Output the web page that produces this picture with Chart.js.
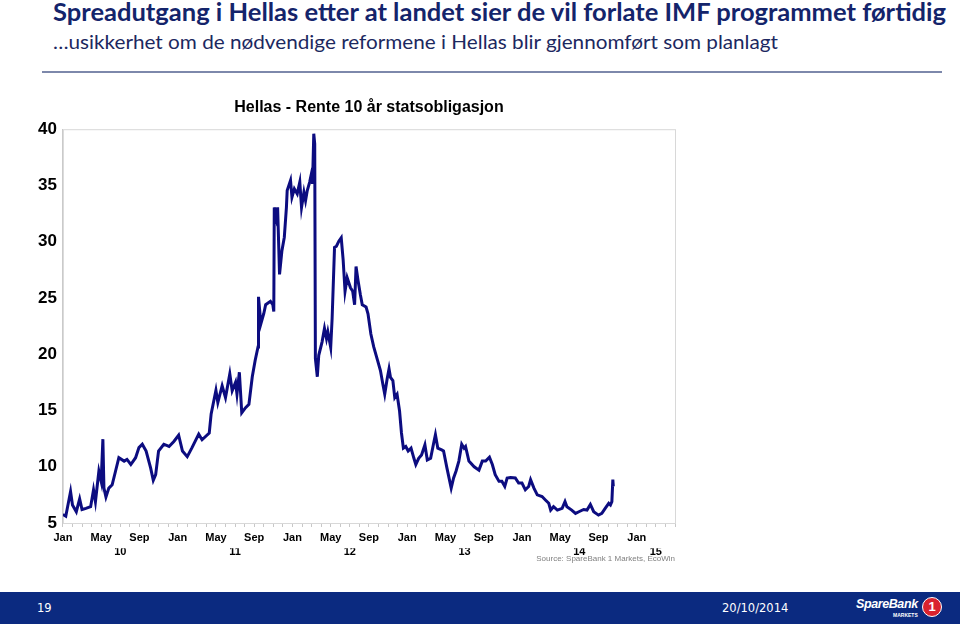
<!DOCTYPE html>
<html>
<head>
<meta charset="utf-8">
<script src="https://cdn.jsdelivr.net/npm/chart.js@4.4.1/dist/chart.umd.min.js"></script>
<style>
  body { margin: 0; width: 960px; height: 627px; position: relative; overflow: hidden; background: #fff; }
  #head1 { position: absolute; left: 53px; top: -3px; font: bold 24px Lato, sans-serif; color: #14246b; white-space: nowrap; transform-origin: 0 0; }
  #head2 { position: absolute; left: 53px; top: 30px; font: 19px Lato, sans-serif; color: #1c2860; white-space: nowrap; transform-origin: 0 0; }
  #rule { position: absolute; left: 42px; top: 71px; width: 900px; height: 2px; background: #7d88ab; }
  #wrap { position: absolute; left: 20px; top: 90px; width: 700px; height: 476px; }
  #foot { position: absolute; left: 0; top: 592px; width: 960px; height: 32px; background: #0b2a80; color: #fff; font-family: "DejaVu Sans", sans-serif; }
  #page { position: absolute; left: 37px; top: 9px; font-size: 11.5px; }
  #date { position: absolute; left: 722px; top: 9px; font-size: 11.5px; }
  #logo { position: absolute; left: 856px; top: 5px; font: bold italic 12.5px "Liberation Sans", sans-serif; letter-spacing: -0.4px; }
  #mk { position: absolute; left: 893px; top: 20px; font: bold 5px "Liberation Sans", sans-serif; }
  #one { position: absolute; left: 922px; top: 5px; width: 18px; height: 18px; border-radius: 50%; background: #d9232e; border: 1px solid #fff; color: #fff; font: bold 13px "Liberation Sans", sans-serif; text-align: center; line-height: 18px; }
</style>
</head>
<body>
<div id="head1">Spreadutgang i Hellas etter at landet sier de vil forlate IMF programmet førtidig</div>
<div id="head2">…usikkerhet om de nødvendige reformene i Hellas blir gjennomført som planlagt</div>
<div id="rule"></div>
<div id="wrap"><canvas id="grafico"></canvas></div>
<div id="foot">
  <div id="page">19</div>
  <div id="date">20/10/2014</div>
  <div id="logo">SpareBank</div>
  <div id="mk">MARKETS</div>
  <div id="one">1</div>
</div>
<script>
// months since Jan 2010
const months = [
  0, 0.3, 0.8, 1.0, 1.4, 1.75, 2.0, 2.4, 2.9, 3.2, 3.4, 3.76, 4.0, 4.18, 4.29, 4.5, 4.8, 5.15, 5.5, 5.85,
  6.4, 6.7, 7.1, 7.6, 7.95, 8.3, 8.7, 9.17, 9.45, 9.7, 10.0, 10.55, 11.1, 11.6, 12.1, 12.5, 13.0, 13.5, 14.2, 14.55,
  15.3, 15.5, 16.0, 16.2, 16.65, 17.0, 17.45, 17.7, 18.05, 18.2, 18.45, 18.7, 19.1, 19.45, 19.8, 20.1, 20.4, 20.45, 20.7, 21.0,
  21.2, 21.7, 21.95, 22.05, 22.1, 22.3, 22.45, 22.65, 22.9, 23.15, 23.37, 23.45, 23.8, 23.95, 24.2, 24.5, 24.77, 24.95, 25.2, 25.37,
  25.55, 25.8, 25.95, 26.1, 26.23, 26.33, 26.4, 26.6, 26.75, 27.1, 27.35, 27.56, 27.7, 28.0, 28.15, 28.4, 28.6, 28.85, 29.1, 29.3,
  29.5, 29.72, 30.07, 30.3, 30.5, 30.65, 30.85, 31.1, 31.3, 31.7, 31.9, 32.2, 32.5, 32.9, 33.2, 33.45, 33.65, 33.9, 34.1, 34.25,
  34.5, 34.7, 34.94, 35.2, 35.4, 35.6, 35.85, 36.1, 36.4, 36.7, 36.9, 37.2, 37.5, 37.85, 38.1, 38.45, 38.8, 38.95, 39.2, 39.6,
  39.8, 40.15, 40.6, 40.85, 41.1, 41.4, 41.7, 41.95, 42.1, 42.45, 43.0, 43.5, 43.85, 44.2, 44.6, 44.9, 45.2, 45.6, 45.9, 46.2,
  46.45, 46.8, 47.3, 47.65, 48.0, 48.35, 48.7, 48.9, 49.25, 49.6, 50.1, 50.45, 50.8, 51.0, 51.3, 51.7, 52.2, 52.5, 52.7, 53.2,
  53.6, 53.95, 54.45, 54.8, 55.15, 55.5, 56.0, 56.35, 56.7, 57.07, 57.25, 57.4, 57.5, 57.55
];
const rente = [
  5.75, 5.6, 7.8, 6.6, 6.0, 7.15, 6.2, 6.3, 6.45, 7.95, 6.9, 9.6, 8.7, 12.45, 8.1, 7.3, 8.1, 8.4, 9.6, 10.8,
  10.5, 10.65, 10.2, 10.8, 11.7, 12.0, 11.4, 9.9, 8.8, 9.3, 11.4, 12.0, 11.8, 12.25, 12.8, 11.4, 10.9, 11.7, 12.9, 12.4,
  13.0, 14.7, 16.8, 15.7, 17.2, 16.15, 18.25, 16.75, 17.5, 16.45, 18.4, 14.8, 15.25, 15.55, 18.0, 19.45, 20.65, 25.1, 22.7, 23.6,
  24.4, 24.7, 24.4, 23.8, 33.05, 32.15, 33.05, 27.1, 29.2, 30.4, 33.05, 34.55, 35.45, 33.95, 34.7, 34.25, 35.3, 33.05, 34.4, 33.65,
  34.55, 35.3, 35.9, 35.15, 39.6, 38.7, 19.6, 18.0, 19.9, 21.1, 22.3, 21.4, 22.0, 20.6, 23.2, 29.5, 29.6, 30.05, 30.35, 28.4,
  25.6, 26.8, 25.9, 25.6, 24.4, 27.8, 26.6, 25.3, 24.4, 24.2, 23.6, 21.8, 20.65, 19.45, 18.55, 17.35, 16.45, 17.8, 18.7, 17.95,
  17.65, 16.15, 16.45, 14.95, 13.0, 11.65, 11.8, 11.4, 11.65, 10.75, 10.2, 10.75, 11.05, 11.95, 10.6, 10.75, 12.25, 12.85, 11.65, 11.5,
  11.4, 9.9, 8.1, 9.0, 9.6, 10.5, 12.0, 11.65, 11.8, 10.5, 10.0, 9.7, 10.5, 10.5, 10.85, 10.2, 9.3, 8.7, 8.7, 8.25,
  9.0, 9.05, 9.0, 8.55, 8.55, 7.95, 8.25, 8.85, 8.1, 7.5, 7.35, 7.05, 6.75, 6.15, 6.45, 6.15, 6.3, 6.9, 6.45, 6.15,
  5.85, 6.0, 6.2, 6.15, 6.65, 6.0, 5.7, 5.85, 6.3, 6.75, 6.6, 6.9, 8.85, 8.25
];
const monthNames = ["Jan", "May", "Sep"];
const yearLabels = ["10", "11", "12", "13", "14", "15"];
const yearPos = [6, 18, 30, 42, 54, 62];
const yTicks = [5, 10, 15, 20, 25, 30, 35, 40];

function fit(id, w) {
  const el = document.getElementById(id);
  el.style.transform = "scaleX(" + (w / el.getBoundingClientRect().width) + ")";
}
fit("head1", 893);
fit("head2", 725);

const F = "'Liberation Sans', Arial, sans-serif";
const AXIS = "#c8c8c8";

const frame = {
  id: "frame",
  beforeDatasetsDraw(chart) {
    const a = chart.chartArea, ctx = chart.ctx;
    ctx.save();
    ctx.strokeStyle = "#d8d8d8";
    ctx.lineWidth = 1;
    ctx.strokeRect(a.left + 0.5, a.top + 0.5, a.width, a.height);
    ctx.restore();
  }
};

const ctx = document.getElementById("grafico").getContext("2d");
new Chart(ctx, {
  type: "line",
  data: {
    datasets: [
      {
        label: "Hellas 10 år",
        data: months.map((m, i) => ({ x: m, y: rente[i] })),
        borderColor: "#0c0c80",
        borderWidth: 3,
        pointRadius: 0,
        tension: 0,
      },
    ],
  },
  options: {
    responsive: true,
    maintainAspectRatio: false,
    animation: false,
    layout: { padding: { left: 12, right: 45, top: 0, bottom: 2 } },
    plugins: {
      legend: { display: false },
      tooltip: { enabled: false },
      title: {
        display: true,
        fullSize: false,
        text: "Hellas - Rente 10 år statsobligasjon",
        color: "#000",
        font: { family: F, size: 16, weight: "bold" },
        padding: { top: 8, bottom: 12 },
      },
      subtitle: {
        display: true,
        fullSize: false,
        position: "bottom",
        align: "end",
        text: "Source: SpareBank 1 Markets, EcoWin",
        color: "#808080",
        font: { family: F, size: 8 },
        padding: { top: -1, bottom: 0 },
      },
    },
    scales: {
      x: {
        type: "linear",
        min: 0,
        max: 64,
        weight: 0,
        afterBuildTicks: (axis) => {
          const t = [];
          for (let m = 0; m <= 64; m++) t.push({ value: m });
          axis.ticks = t;
        },
        grid: { drawOnChartArea: false, tickLength: 4, color: AXIS },
        border: { color: AXIS },
        ticks: {
          autoSkip: false,
          maxRotation: 0,
          padding: 4,
          color: "#000",
          font: { family: F, size: 11, weight: "bold" },
          callback: (v) => (v % 4 === 0 && v < 64 ? monthNames[(v / 4) % 3] : ""),
        },
      },
      x2: {
        type: "linear",
        position: "bottom",
        min: 0,
        max: 64,
        weight: 1,
        afterBuildTicks: (axis) => {
          axis.ticks = yearPos.map((v) => ({ value: v }));
        },
        grid: { display: false, drawTicks: false },
        border: { display: false },
        ticks: {
          autoSkip: false,
          maxRotation: 0,
          padding: -3,
          color: "#000",
          font: { family: F, size: 11, weight: "bold" },
          callback: (v) => yearLabels[yearPos.indexOf(v)],
        },
      },
      y: {
        min: 5,
        max: 40,
        afterBuildTicks: (axis) => {
          axis.ticks = yTicks.map((v) => ({ value: v }));
        },
        grid: { display: false, drawTicks: false },
        border: { color: AXIS },
        ticks: {
          padding: 6,
          color: "#000",
          font: { family: F, size: 17, weight: "bold" },
        },
      },
    },
  },
  plugins: [frame],
});
</script>
</body>
</html>
